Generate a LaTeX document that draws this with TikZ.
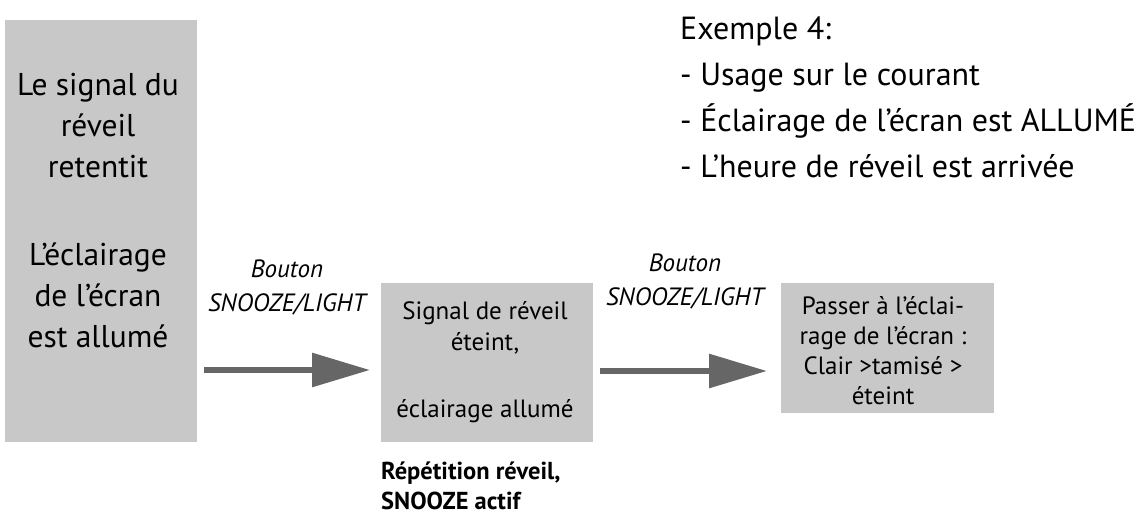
\documentclass[tikz,border=0pt]{standalone}
\usepackage{xcolor}
\usepackage{fontspec}
\setmainfont{PT Sans}
\definecolor{boxgray}{HTML}{C8C8C8}
\definecolor{arrowgray}{HTML}{666666}
\usepackage{tikz}
\usetikzlibrary{arrows.meta,positioning,calc}

\begin{document}
\begin{tikzpicture}[
  x=1pt,
  y=-1pt,
  box/.style={fill=boxgray, inner sep=0pt},
  txt/.style={inner sep=0pt, align=center},
  flow/.style={arrowgray, line width=6pt, -{Triangle[length=58pt,width=33pt]}},
  btn/.style={txt, font=\fontsize{25}{34}\selectfont\itshape},
  hint/.style={font=\fontsize{32}{46}\selectfont, align=left, anchor=north west, inner sep=0pt},
]
\useasboundingbox (0,0) rectangle (1148,521);

% Boxes
\node[box, minimum width=192pt, minimum height=422pt] (alarm) at (101,231) {};
\node[box, minimum width=212pt, minimum height=159pt] (off) at (487,362.5) {};
\node[box, minimum width=213pt, minimum height=130pt] (dim) at (887.5,348) {};

% Box texts
\node[txt, font=\fontsize{31.5}{41}\selectfont] (alarmtxt) at (98,211) {Le signal du\\réveil\\retentit\\[47pt]L’éclairage\\de l’écran\\est allumé};
\node[txt, font=\fontsize{25}{31}\selectfont] (offtxt) at (485,362) {Signal de réveil\\éteint,\\[36pt]éclairage allumé};
\node[txt, font=\fontsize{25}{30}\selectfont] (dimtxt) at (883,351) {Passer à l’éclai-\\rage de l’écran :\\Clair >tamisé >\\éteint};

% Other texts
\node[hint] (title) at (680,17) {Exemple 4:\\- Usage sur le courant\\- Éclairage de l’écran est ALLUMÉ\\- L’heure de réveil est arrivée};
\node[btn] (btna) at (287,287) {Bouton\\SNOOZE/LIGHT};
\node[btn] (btnb) at (685,281) {Bouton\\SNOOZE/LIGHT};
\node[font=\fontsize{24.5}{30}\selectfont\bfseries, align=left, anchor=north west, inner sep=0pt] (snooze) at (381,462) {Répétition réveil,\\SNOOZE actif};

% Arrows
\coordinate (a1) at (204,370);
\coordinate (a2) at (370,370);
\coordinate (b1) at (600,371);
\coordinate (b2) at (767,371);
\draw[flow] (a1) -- (a2);
\draw[flow] (b1) -- (b2);

\end{tikzpicture}
\end{document}
